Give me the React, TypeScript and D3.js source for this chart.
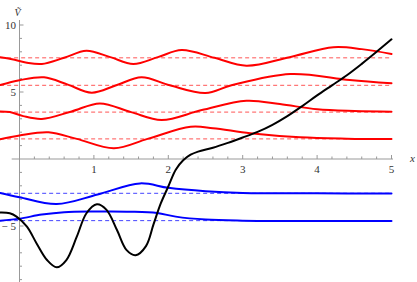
import React from 'react';
import * as d3 from 'd3';

// potential V(x)
const potX = [-0.26, -0.13, -0.04, 0.1, 0.23, 0.37, 0.5, 0.63, 0.77, 0.9, 1.04, 1.17, 1.31, 1.44, 1.56, 1.7, 1.8, 1.9, 2.0, 2.1, 2.2, 2.3, 2.4, 2.6, 2.8, 3.0, 3.2, 3.4, 3.6, 3.8, 4.0, 4.2, 4.4, 4.6, 4.8, 5.0];
const potV = [-4.0, -4.05, -4.3, -5.05, -6.3, -7.54, -8.08, -7.54, -5.8, -4.05, -3.38, -3.8, -5.3, -6.8, -7.18, -6.5, -4.9, -3.3, -2.05, -0.8, -0.1, 0.32, 0.55, 0.84, 1.2, 1.6, 2.02, 2.55, 3.2, 3.95, 4.75, 5.5, 6.25, 7.1, 8.0, 8.93];

// bound / resonance levels
const redLevels = [1.5, 3.5, 5.5, 7.55];
const blueLevels = [-2.56, -4.6];

// wave functions, drawn on top of their level
const red1X = [-0.26, 0.0, 0.39, 0.77, 1.27, 1.72, 2.3, 2.6, 3.1, 3.77, 4.4, 5.0];
const red1Y = [1.47, 1.75, 1.99, 1.5, 0.8, 1.5, 2.4, 2.3, 1.92, 1.62, 1.52, 1.49];
const red2X = [-0.26, -0.13, 0.05, 0.3, 0.7, 1.08, 1.5, 1.91, 2.45, 3.05, 3.5, 4.0, 4.5, 5.0];
const red2Y = [3.55, 3.5, 3.2, 2.99, 3.55, 4.15, 3.5, 2.91, 3.65, 4.35, 4.1, 3.71, 3.58, 3.53];
const red3X = [-0.26, 0.0, 0.33, 0.65, 0.97, 1.3, 1.64, 2.02, 2.5, 2.85, 3.64, 4.44, 5.0];
const red3Y = [5.52, 5.88, 6.1, 5.55, 4.95, 5.5, 6.1, 5.5, 4.92, 5.5, 6.34, 5.9, 5.65];
const red4X = [-0.26, -0.1, 0.1, 0.3, 0.6, 0.9, 1.22, 1.53, 1.86, 2.18, 2.62, 3.05, 3.63, 4.22, 4.6, 5.0];
const red4Y = [7.6, 7.45, 7.18, 7.09, 7.55, 8.08, 7.6, 7.09, 7.6, 8.13, 7.55, 6.96, 7.6, 8.34, 8.2, 7.84];
const blue1X = [-0.26, 0.0, 0.5, 1.05, 1.62, 2.0, 2.5, 3.0, 4.0, 5.0];
const blue1Y = [-2.53, -2.85, -3.36, -2.65, -1.82, -2.15, -2.4, -2.53, -2.56, -2.57];
const blue2X = [-0.26, 0.0, 0.3, 0.6, 1.0, 1.5, 1.85, 2.1, 2.5, 3.0, 4.0, 5.0];
const blue2Y = [-4.6, -4.45, -4.15, -3.97, -3.92, -3.93, -4.03, -4.3, -4.52, -4.6, -4.62, -4.62];

const xMajor = [1, 2, 3, 4, 5];
const yMajor = [-5, 5, 10];

const W = 417;
const H = 282;
const FONT = '"Liberation Serif", "DejaVu Serif", serif';

export default function App() {
  const x = d3.scaleLinear().domain([0, 5]).range([19.5, 391.5]);
  const y = d3.scaleLinear().domain([0, 10]).range([159, 25]);

  const line = d3
    .line<[number, number]>()
    .x((d) => x(d[0]))
    .y((d) => y(d[1]))
    .curve(d3.curveCatmullRom.alpha(0.5));

  const zip = (xs: number[], ys: number[]) => xs.map((v, i) => [v, ys[i]] as [number, number]);

  const xMinor = d3.range(0.2, 5, 0.2).filter((t) => Math.abs(t - Math.round(t)) > 0.01);
  const yMinor = d3.range(-9, 11, 1).filter((t) => t % 5 !== 0);

  const reds = [zip(red1X, red1Y), zip(red2X, red2Y), zip(red3X, red3Y), zip(red4X, red4Y)];
  const blues = [zip(blue1X, blue1Y), zip(blue2X, blue2Y)];

  return (
    <svg width={W} height={H} style={{ position: 'absolute', left: 0, top: 0 }} fontFamily={FONT}>
      {/* axes */}
      <g stroke="#999" strokeWidth={1}>
        <line x1={x(-0.105)} x2={x(5.02)} y1={y(0)} y2={y(0)} />
        <line x1={x(0)} x2={x(0)} y1={20} y2={H} />
        {xMajor.map((t) => (
          <line key={'xm' + t} x1={x(t)} x2={x(t)} y1={y(0)} y2={y(0) - 4} />
        ))}
        {xMinor.map((t) => (
          <line key={'xn' + t} x1={x(t)} x2={x(t)} y1={y(0)} y2={y(0) - 2.5} />
        ))}
        {yMajor.map((t) => (
          <line key={'ym' + t} x1={x(0)} x2={x(0) + 4} y1={y(t)} y2={y(t)} />
        ))}
        {yMinor.map((t) => (
          <line key={'yn' + t} x1={x(0)} x2={x(0) + 2.5} y1={y(t)} y2={y(t)} />
        ))}
      </g>
      <g fontSize={11} fill="#333">
        {xMajor.map((t) => (
          <text key={'xl' + t} x={x(t)} y={y(0) + 14} textAnchor="middle">
            {t}
          </text>
        ))}
        {yMajor.map((t) => (
          <text key={'yl' + t} x={x(0) - 3.5} y={y(t) + 4} textAnchor="end">
            {t < 0 ? '\u2212 ' + Math.abs(t) : t}
          </text>
        ))}
        <text x={410} y={162} fontStyle="italic" fontSize={11}>
          x
        </text>
        <text x={14.5} y={16} fontStyle="italic" fontSize={10}>
          {'V\u0303'}
        </text>
      </g>

      {/* energy levels */}
      <g strokeWidth={1} strokeDasharray="4,3" fill="none">
        {redLevels.map((e) => (
          <line key={'r' + e} x1={x(-0.26)} x2={x(5)} y1={y(e)} y2={y(e)} stroke="#f55" />
        ))}
        {blueLevels.map((e) => (
          <line key={'b' + e} x1={x(-0.26)} x2={x(5)} y1={y(e)} y2={y(e)} stroke="#44f" />
        ))}
      </g>

      {/* wave functions */}
      <g fill="none" strokeWidth={2} strokeLinecap="round">
        {reds.map((d, i) => (
          <path key={'rw' + i} d={line(d) || ''} stroke="#ff0000" />
        ))}
        {blues.map((d, i) => (
          <path key={'bw' + i} d={line(d) || ''} stroke="#0000ff" />
        ))}
        <path d={line(zip(potX, potV)) || ''} stroke="#000" />
      </g>
    </svg>
  );
}
